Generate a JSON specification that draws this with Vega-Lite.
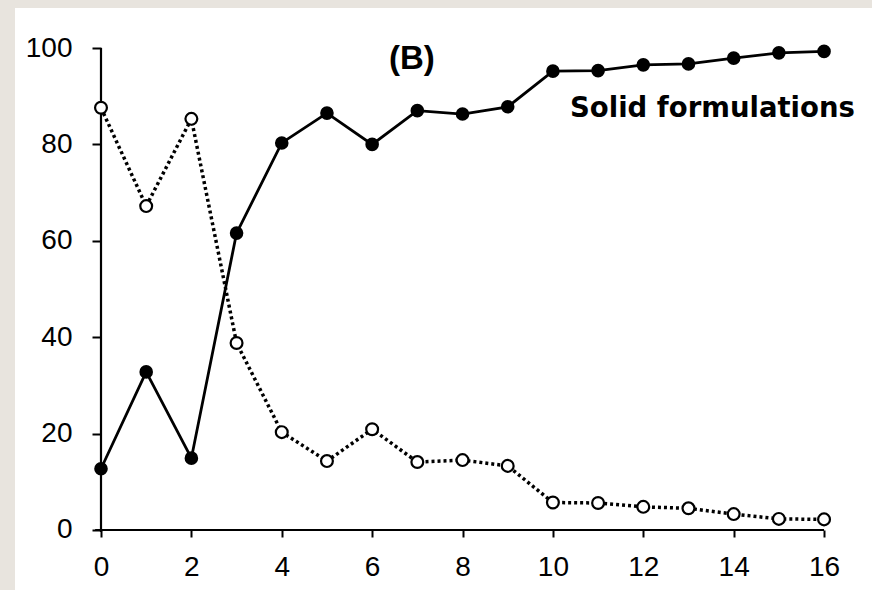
{
  "$schema": "https://vega.github.io/schema/vega-lite/v6.json",
  "autosize": "none",
  "width": 857,
  "height": 582,
  "padding": {"left": 15, "top": 8, "right": 0, "bottom": 0},
  "background": "#e8e4de",
  "config": {"view": {"fill": "white", "stroke": null}},
  "datasets": {
    "series": [
      {"x": 0, "solid": 12.7, "other": 87.6},
      {"x": 1, "solid": 32.8, "other": 67.2},
      {"x": 2, "solid": 14.9, "other": 85.3},
      {"x": 3, "solid": 61.6, "other": 38.8},
      {"x": 4, "solid": 80.3, "other": 20.3},
      {"x": 5, "solid": 86.5, "other": 14.3},
      {"x": 6, "solid": 80.0, "other": 20.9},
      {"x": 7, "solid": 87.0, "other": 14.1},
      {"x": 8, "solid": 86.3, "other": 14.5},
      {"x": 9, "solid": 87.8, "other": 13.3},
      {"x": 10, "solid": 95.2, "other": 5.7},
      {"x": 11, "solid": 95.3, "other": 5.6},
      {"x": 12, "solid": 96.5, "other": 4.8},
      {"x": 13, "solid": 96.7, "other": 4.5},
      {"x": 14, "solid": 97.9, "other": 3.3},
      {"x": 15, "solid": 99.0, "other": 2.3},
      {"x": 16, "solid": 99.3, "other": 2.2}
    ],
    "one": [{"k": 1}]
  },
  "layer": [
    {
      "data": {"name": "series"},
      "mark": {"type": "line", "color": "black", "strokeWidth": 2.8},
      "encoding": {
        "x": {
          "field": "x", "type": "quantitative",
          "scale": {"domain": [-1.903, 17.061], "nice": false, "zero": false},
          "axis": {
            "title": null, "domain": false, "grid": false, "offset": -60,
            "values": [0, 2, 4, 6, 8, 10, 12, 14, 16],
            "tickColor": "black", "tickSize": 7, "tickWidth": 2,
            "labelFont": "Liberation Sans", "labelFontSize": 28, "labelColor": "black",
            "labelPadding": 16, "labelFlush": false
          }
        },
        "y": {
          "field": "solid", "type": "quantitative",
          "scale": {"domain": [-12.45, 108.3], "nice": false, "zero": false},
          "axis": {
            "title": null, "domain": false, "grid": false, "offset": -86,
            "values": [0, 20, 40, 60, 80, 100],
            "tickColor": "black", "tickSize": 9, "tickWidth": 2,
            "labelFont": "Liberation Sans", "labelFontSize": 28, "labelColor": "black",
            "labelPadding": 20, "labelFlush": false
          }
        }
      }
    },
    {
      "data": {"name": "series"},
      "mark": {"type": "line", "color": "black", "strokeWidth": 3.5, "strokeDash": [3, 3]},
      "encoding": {
        "x": {"field": "x", "type": "quantitative"},
        "y": {"field": "other", "type": "quantitative"}
      }
    },
    {
      "data": {"name": "one"},
      "mark": {"type": "rule", "color": "black", "strokeWidth": 2.2},
      "encoding": {
        "x": {"datum": 0, "type": "quantitative"},
        "y": {"datum": -0.4, "type": "quantitative"},
        "y2": {"datum": 100}
      }
    },
    {
      "data": {"name": "one"},
      "mark": {"type": "rule", "color": "black", "strokeWidth": 2.2},
      "encoding": {
        "x": {"datum": -0.13, "type": "quantitative"},
        "x2": {"datum": 16},
        "y": {"datum": 0, "type": "quantitative"}
      }
    },
    {
      "data": {"name": "series"},
      "mark": {"type": "circle", "color": "black", "opacity": 1, "size": 185},
      "encoding": {
        "x": {"field": "x", "type": "quantitative"},
        "y": {"field": "solid", "type": "quantitative"}
      }
    },
    {
      "data": {"name": "series"},
      "mark": {"type": "point", "shape": "circle", "filled": false, "fill": "white", "fillOpacity": 1, "stroke": "black", "strokeWidth": 2.2, "opacity": 1, "size": 140},
      "encoding": {
        "x": {"field": "x", "type": "quantitative"},
        "y": {"field": "other", "type": "quantitative"}
      }
    },
    {
      "data": {"name": "one"},
      "mark": {"type": "text", "text": "(B)", "font": "Liberation Sans", "fontWeight": "bold", "fontSize": 33, "align": "center", "baseline": "alphabetic", "color": "black"},
      "encoding": {
        "x": {"datum": 6.88, "type": "quantitative"},
        "y": {"datum": 95.6, "type": "quantitative"}
      }
    },
    {
      "data": {"name": "one"},
      "mark": {"type": "text", "text": "Solid formulations", "font": "DejaVu Sans", "fontWeight": "bold", "fontSize": 27.5, "align": "center", "baseline": "alphabetic", "color": "black"},
      "encoding": {
        "x": {"datum": 13.53, "type": "quantitative"},
        "y": {"datum": 85.7, "type": "quantitative"}
      }
    }
  ]
}
